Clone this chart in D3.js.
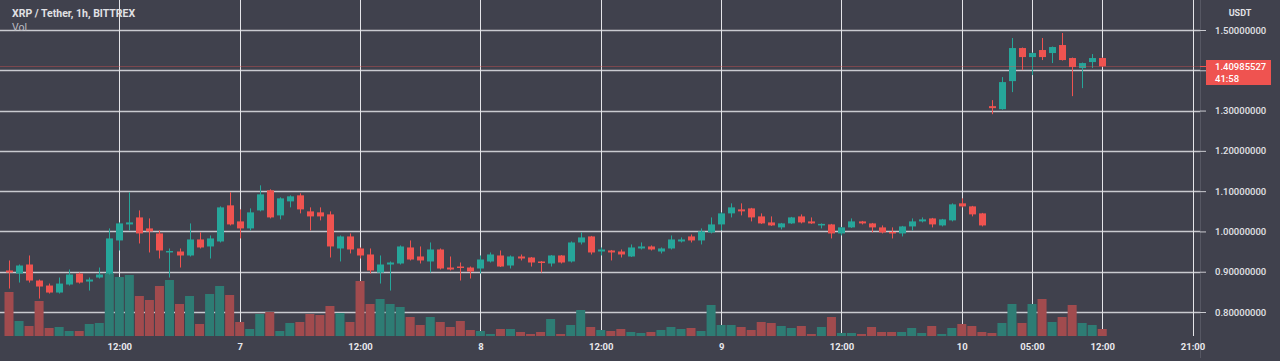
<!DOCTYPE html>
<html><head><meta charset="utf-8">
<script src="https://cdn.jsdelivr.net/npm/d3@7"></script>
<style>
html,body{margin:0;padding:0;background:#40414d;}
svg{display:block;}
</style></head>
<body>
<svg id="chart" width="1280" height="361"></svg>
<script>
// ---- DATA ----
const openP  = [0.9030,0.8955,0.9179,0.8781,0.8657,0.8483,0.8682,0.8955,0.8756,0.8856,
0.8955,0.9776,1.0174,1.0348,1.0075,0.9950,0.9478,0.9502,0.9403,0.9801,
0.9627,0.9751,1.0647,1.0249,1.0075,1.0522,1.1020,1.0398,1.0746,1.0896,
1.0498,1.0473,1.0423,0.9577,0.9876,0.9577,0.9428,0.8980,0.9179,0.9204,
0.9602,0.9378,0.9254,0.9552,0.9104,0.9129,0.9104,0.9080,0.9254,0.9403,
0.9154,0.9378,0.9353,0.9254,0.9204,0.9403,0.9254,0.9726,0.9876,0.9502,
0.9527,0.9502,0.9378,0.9577,0.9627,0.9502,0.9577,0.9751,0.9876,0.9776,
0.9975,1.0174,1.0448,1.0547,1.0572,1.0373,1.0224,1.0100,1.0199,1.0373,
1.0249,1.0149,1.0174,0.9950,1.0100,1.0249,1.0199,1.0100,0.9988,0.9950,
1.0124,1.0249,1.0323,1.0149,1.0274,1.0697,1.0622,1.0448,1.3110,1.3035,
1.3731,1.4552,1.4328,1.4503,1.4428,1.4627,1.4304,1.4055,1.4204,1.4304];
const closeP = [0.8980,0.9154,0.8781,0.8632,0.8483,0.8706,0.8930,0.8731,0.8806,0.8930,
0.9826,1.0199,1.0224,0.9950,1.0000,0.9527,0.9515,0.9403,0.9801,0.9602,
0.9826,1.0597,1.0174,1.0075,1.0473,1.0920,1.0348,1.0821,1.0871,1.0547,
1.0373,1.0373,0.9627,0.9876,0.9552,0.9403,0.9030,0.9179,0.9229,0.9627,
0.9303,0.9279,0.9552,0.9080,0.9055,0.9092,0.9005,0.9303,0.9428,0.9129,
0.9378,0.9328,0.9229,0.9216,0.9403,0.9229,0.9726,0.9851,0.9478,0.9552,
0.9478,0.9428,0.9602,0.9627,0.9552,0.9577,0.9801,0.9801,0.9776,1.0000,
1.0174,1.0448,1.0597,1.0498,1.0348,1.0199,1.0149,1.0199,1.0348,1.0224,
1.0199,1.0187,0.9950,1.0100,1.0249,1.0199,1.0100,0.9975,0.9950,1.0124,
1.0249,1.0299,1.0174,1.0299,1.0672,1.0622,1.0423,1.0149,1.3060,1.3707,
1.4552,1.4328,1.4428,1.4328,1.4577,1.4254,1.4080,1.4179,1.4304,1.40985527];
const highP  = [0.9279,0.9179,0.9403,0.8806,0.8706,0.8856,0.9055,0.8980,0.8856,0.9104,
1.0075,1.0224,1.0970,1.0522,1.0323,1.0025,0.9577,0.9577,1.0199,0.9975,
0.9900,1.0622,1.0970,1.0547,1.0572,1.1144,1.1045,1.0846,1.0896,1.0945,
1.0597,1.0597,1.0498,0.9900,0.9950,0.9602,0.9577,0.9403,0.9254,0.9652,
0.9776,0.9627,0.9726,0.9577,0.9378,0.9229,0.9129,0.9403,0.9478,0.9527,
0.9403,0.9428,0.9366,0.9266,0.9415,0.9415,0.9751,0.9975,0.9888,0.9602,
0.9540,0.9552,0.9677,0.9726,0.9652,0.9602,0.9900,0.9851,0.9925,1.0075,
1.0348,1.0473,1.0697,1.0697,1.0585,1.0448,1.0373,1.0211,1.0361,1.0423,
1.0348,1.0199,1.0187,1.0112,1.0323,1.0261,1.0211,1.0149,1.0100,1.0137,
1.0323,1.0348,1.0336,1.0311,1.0697,1.0821,1.0634,1.0460,1.3259,1.3831,
1.4801,1.4565,1.4440,1.4801,1.4590,1.4925,1.4316,1.4192,1.4403,1.4316];
const lowP   = [0.8582,0.8731,0.8731,0.8333,0.8458,0.8458,0.8657,0.8706,0.8532,0.8831,
0.8930,0.9527,1.0025,0.9701,0.9478,0.9328,0.8856,0.9104,0.9378,0.9577,
0.9328,0.9726,1.0149,0.9826,1.0025,1.0498,1.0323,1.0299,1.0597,1.0448,
1.0025,1.0274,0.9353,0.9254,0.9453,0.9328,0.8955,0.8706,0.8532,0.9179,
0.9279,0.9204,0.8980,0.9055,0.9030,0.8781,0.8831,0.8955,0.9229,0.9117,
0.9080,0.9279,0.9129,0.8980,0.9129,0.9204,0.9229,0.9677,0.9428,0.9403,
0.9279,0.9353,0.9366,0.9552,0.9527,0.9453,0.9552,0.9726,0.9726,0.9677,
0.9950,1.0025,1.0348,1.0398,1.0249,1.0187,1.0137,1.0050,1.0187,1.0199,
1.0187,1.0075,0.9826,0.9900,1.0087,1.0174,0.9975,0.9950,0.9826,0.9876,
1.0025,1.0224,1.0100,1.0124,1.0249,1.0597,1.0373,1.0124,1.2910,1.3022,
1.3458,1.4005,1.3881,1.4254,1.4179,1.4241,1.3358,1.3557,1.4055,1.4080];
const volume = [440,150,100,350,80,90,50,50,120,130,
630,590,610,400,360,500,560,320,400,120,
420,500,410,140,70,220,240,50,130,140,
220,210,300,230,140,550,320,370,320,290,
190,110,190,140,90,150,60,50,20,70,
70,40,20,40,170,20,110,260,90,60,
50,70,40,30,40,60,90,70,80,50,
310,110,110,90,60,140,130,100,80,100,
20,90,190,30,30,20,90,40,40,40,
80,30,100,20,80,120,100,40,30,130,
320,130,320,370,140,190,310,130,110,70];
const timeTickIdx = [11,23,35,47,59,71,83,95,102,109,118];
const timeTickLabels = ["12:00","7","12:00","8","12:00","9","12:00","10","05:00","12:00","21:00"];
const priceTicks = [0.8,0.9,1.0,1.1,1.2,1.3,1.4,1.5];
const lastPrice = 1.40985527;
const countdown = "41:58";
const title = "XRP / Tether, 1h, BITTREX";
const volLabel = "Vol";
const currency = "USDT";

// ---- CHART ----
const W = 1280, H = 361;
const plotRight = 1200, volBottom = 336;
const UP = "#26a69a", DOWN = "#ef5350";
const VUP = "#2e7c74", VDOWN = "#a14b4e";
const bg = "#40414d";
const svg = d3.select("#chart");
svg.append("rect").attr("width",W).attr("height",H).attr("fill",bg);

const x = d3.scaleLinear().domain([0,118]).range([9,1192.5]);
const y = d3.scaleLinear().domain([0.8,1.5]).range([312,30]);
const yv = d3.scaleLinear().domain([0,1000]).range([volBottom,236]);

const data = openP.map((o,i)=>({i,o,c:closeP[i],h:highP[i],l:lowP[i],v:volume[i]}));

// grid
const grid = svg.append("g");
grid.selectAll("line.h").data(priceTicks).join("line")
  .attr("x1",0).attr("x2",plotRight)
  .attr("y1",d=>Math.round(y(d))+0.5).attr("y2",d=>Math.round(y(d))+0.5)
  .attr("stroke","#c9cad0").attr("stroke-width",1.4);
grid.selectAll("line.v").data(timeTickIdx).join("line")
  .attr("x1",d=>Math.round(x(d))+0.5).attr("x2",d=>Math.round(x(d))+0.5)
  .attr("y1",0).attr("y2",volBottom)
  .attr("stroke","#e4e4e8").attr("stroke-width",1);

// volume
svg.append("g").selectAll("rect").data(data).join("rect")
  .attr("x",d=>x(d.i)-4.5).attr("width",9)
  .attr("y",d=>yv(d.v)).attr("height",d=>volBottom-yv(d.v))
  .attr("fill",d=>d.c>=d.o?VUP:VDOWN);

// candles
const cg = svg.append("g");
cg.selectAll("line").data(data).join("line")
  .attr("x1",d=>Math.round(x(d.i))+0.5).attr("x2",d=>Math.round(x(d.i))+0.5)
  .attr("y1",d=>y(d.h)).attr("y2",d=>y(d.l))
  .attr("stroke",d=>d.c>=d.o?UP:DOWN).attr("stroke-width",1);
cg.selectAll("rect").data(data).join("rect")
  .attr("x",d=>Math.round(x(d.i))-3).attr("width",7)
  .attr("y",d=>y(Math.max(d.o,d.c)))
  .attr("height",d=>Math.max(1.5,Math.abs(y(d.o)-y(d.c))))
  .attr("fill",d=>d.c>=d.o?UP:DOWN);

// last price line
svg.append("line").attr("x1",0).attr("x2",plotRight)
  .attr("y1",Math.round(y(lastPrice))+0.5).attr("y2",Math.round(y(lastPrice))+0.5)
  .attr("stroke",DOWN).attr("stroke-opacity",0.35).attr("stroke-width",1);

// right axis
svg.append("line").attr("x1",plotRight+0.5).attr("x2",plotRight+0.5).attr("y1",0).attr("y2",358)
  .attr("stroke","#565763");
const yAxis = d3.axisRight(y).tickValues(priceTicks).tickSize(6).tickPadding(9)
  .tickFormat(d=>d.toFixed(8));
const ya = svg.append("g").attr("transform",`translate(${plotRight},0)`).call(yAxis);
ya.select(".domain").remove();
ya.selectAll(".tick line").attr("stroke","#c9cad0");
ya.selectAll(".tick text").attr("fill","#e2e2e6").attr("font-family","Roboto")
  .attr("font-size","9.5px").attr("font-weight","500");
// the tick label nearest the last-price badge is covered by it
ya.selectAll(".tick").filter(d=>Math.abs(y(d)-y(lastPrice))<14).select("text").remove();
svg.append("text").attr("x",1240).attr("y",16).attr("text-anchor","middle")
  .attr("fill","#e2e2e6").attr("font-family","Roboto").attr("font-size","9px")
  .attr("font-weight","700").text(currency);

// price label
const py = Math.round(y(lastPrice))+0.5;
svg.append("line").attr("x1",plotRight).attr("x2",plotRight+6).attr("y1",py).attr("y2",py)
  .attr("stroke",DOWN);
svg.append("rect").attr("x",plotRight+6).attr("y",py-6.5).attr("width",65).attr("height",25)
  .attr("fill",DOWN);
svg.append("text").attr("x",plotRight+15).attr("y",py+3.5).attr("fill","#fff")
  .attr("font-family","Roboto").attr("font-size","9.5px").attr("font-weight","500").text(lastPrice.toFixed(8));
svg.append("text").attr("x",plotRight+15).attr("y",py+15).attr("fill","#fff")
  .attr("font-family","Roboto").attr("font-size","9.5px").attr("font-weight","500").text(countdown);

// time axis
const xAxis = d3.axisBottom(x).tickValues(timeTickIdx).tickSize(0).tickPadding(7)
  .tickFormat((d,k)=>timeTickLabels[k]);
const xa = svg.append("g").attr("transform",`translate(0,${volBottom})`).call(xAxis);
xa.select(".domain").remove();
xa.selectAll(".tick text").attr("fill","#e8e8ec").attr("font-family","Roboto")
  .attr("font-size","9.5px").attr("font-weight","700");

// titles
svg.append("text").attr("x",12).attr("y",17).attr("fill","#e0e0e4")
  .attr("font-family","Roboto").attr("font-size","10.5px").attr("font-weight","700").text(title);
svg.append("text").attr("x",12).attr("y",31).attr("fill","#bcbcc2")
  .attr("font-family","Roboto").attr("font-size","10.5px").text(volLabel);
</script>
</body></html>
